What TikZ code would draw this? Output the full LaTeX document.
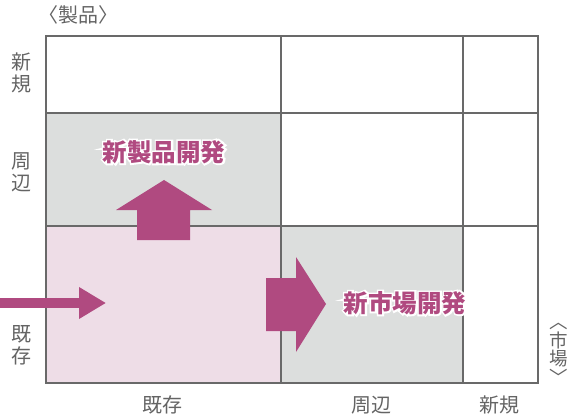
\documentclass[tikz,border=0pt]{standalone}
\usepackage{fontspec}
\setmainfont{Noto Sans CJK JP}
\usetikzlibrary{arrows.meta,calc}
\definecolor{plum}{RGB}{176,74,128}
\definecolor{cellgray}{RGB}{220,222,221}
\definecolor{cellpink}{RGB}{238,221,231}
\definecolor{framegray}{RGB}{105,105,105}
\definecolor{labelgray}{RGB}{100,100,100}
\tikzset{
  axislabel/.style={text=labelgray, inner sep=0pt, align=center,
    font=\fontsize{20}{22}\selectfont},
  strategy/.style={text=plum, inner sep=0pt, font=\fontsize{24.5}{26}\selectfont\bfseries},
  halo/.style={strategy, text=white,
    font=\fontsize{24.5}{26}\selectfont\bfseries\addfontfeatures{FakeBold=14}}
}
\begin{document}
\begin{tikzpicture}[x=1pt, y=-1pt]
\useasboundingbox (0,0) rectangle (582,420);

% cells
\fill [cellgray] (46,113) rectangle (281,226);
\fill [cellpink] (46,226) rectangle (281,383);
\fill [cellgray] (281,226) rectangle (463,383);

% grid
\draw [framegray, line width=1.1pt] (281,36) -- (281,383);
\draw [framegray, line width=1.1pt] (463,36) -- (463,383);
\draw [framegray, line width=1.1pt] (46,113) -- (538,113);
\draw [framegray, line width=1.1pt] (46,226) -- (538,226);
\draw [framegray, line width=2.4pt] (46,36) rectangle (538,383);

% block arrows
\fill [plum] (137,240) -- (137,210) -- (116,210) -- (164,180) -- (212,210)
  -- (190,210) -- (190,240) -- cycle;
\fill [plum] (266,278) -- (296,278) -- (296,257) -- (326,304) -- (296,352)
  -- (296,331) -- (266,331) -- cycle;

% entry arrow
\coordinate (entry) at (0,303);
\coordinate (target) at (106,303);
\draw [plum, line width=10pt, -{Triangle[length=27pt, width=30pt]}] (entry) -- (target);

% strategy labels with white halo
\node [halo] (prodhalo) at (164,152) {新製品開発};
\node [strategy] (newprod) at (prodhalo) {新製品開発};
\node [halo] (mkthalo) at (405,303) {新市場開発};
\node [strategy] (newmkt) at (mkthalo) {新市場開発};

% axis labels
\node [axislabel] (prodaxis) at (78,15) {〈製品〉};
\node [axislabel] (prodnew) at (22,73) {新\\規};
\node [axislabel] (prodnear) at (22,172) {周\\辺};
\node [axislabel] (prodold) at (22,345) {既\\存};
\node [axislabel] (mktold) at (162,405) {既存};
\node [axislabel] (mktnear) at (371,405) {周辺};
\node [axislabel] (mktnew) at (499,405) {新規};
\node [axislabel, font=\fontsize{18.5}{18.5}\selectfont] (mktaxis) at (559,354) {︿\\市\\場\\﹀};
\end{tikzpicture}
\end{document}
